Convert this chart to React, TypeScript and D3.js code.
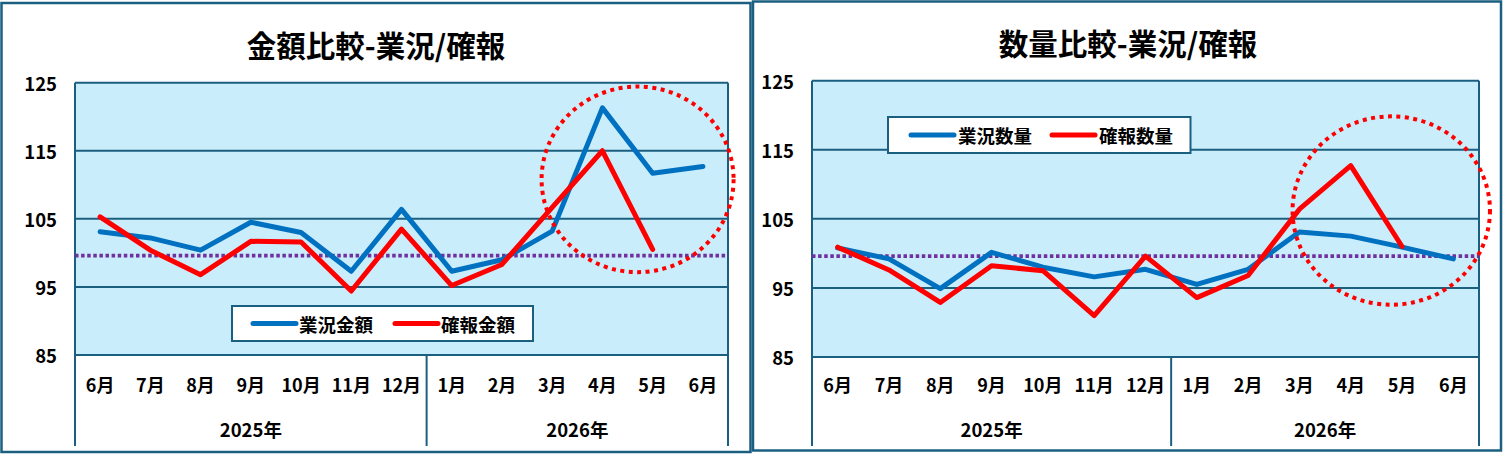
import React from "react";
import * as d3 from "d3";

const months = ["6月", "7月", "8月", "9月", "10月", "11月", "12月", "1月", "2月", "3月", "4月", "5月", "6月"];
const years = ["2025年", "2026年"];
const yearSpans = [7, 6];
const yTicks = [85, 95, 105, 115, 125];
const yDomain = [85, 125];
const baselineValue = 99.6;

const amountTitle = "金額比較-業況/確報";
const amountSeriesNames = ["業況金額", "確報金額"];
const amountGyokyo = [103.1, 102.2, 100.4, 104.5, 103.0, 97.3, 106.4, 97.3, 99.0, 103.2, 121.3, 111.7, 112.7];
const amountKakuho = [105.3, 100.4, 96.8, 101.7, 101.6, 94.4, 103.5, 95.2, 98.3, 106.7, 115.0, 100.5, null];
const amountCircle = { idx: 10.7, value: 110.8 };

const volumeTitle = "数量比較-業況/確報";
const volumeSeriesNames = ["業況数量", "確報数量"];
const volumeGyokyo = [100.8, 99.2, 94.9, 100.15, 98.0, 96.6, 97.7, 95.5, 97.7, 103.1, 102.5, 100.9, 99.2];
const volumeKakuho = [100.9, 97.6, 92.9, 98.2, 97.5, 91.0, 99.6, 93.6, 96.8, 106.4, 112.7, 101.0, null];
const volumeCircle = { idx: 10.79, value: 106.2 };

const FONT = '"Noto Sans CJK JP", "Noto Sans", sans-serif';
const DARK = "#1b5f80";
const BG = "#c9edfb";
const BLUE = "#0070c0";
const RED = "#ff0000";
const PURPLE = "#7030a0";

type Layout = {
  panel: [number, number, number, number];
  plot: { left: number; right: number; top: number; bottom: number };
  titleX: number;
  titleY: number;
  legend: { x: number; y: number; w: number; h: number; items: number[]; texts: number[] };
  circle: { rx: number; ry: number };
};

function Chart(props: {
  layout: Layout;
  title: string;
  names: string[];
  gyokyo: (number | null)[];
  kakuho: (number | null)[];
  circle: { idx: number; value: number };
}) {
  const { layout, title, names, gyokyo, kakuho, circle } = props;
  const { plot, panel, legend } = layout;
  const x = d3
    .scaleBand<number>()
    .domain(months.map((_, i) => i))
    .range([plot.left, plot.right])
    .paddingInner(0)
    .paddingOuter(0);
  const bw = x.bandwidth();
  const cx = (i: number) => (x(i) as number) + bw / 2;
  const y = d3.scaleLinear().domain(yDomain).range([plot.bottom, plot.top]);
  const line = d3
    .line<number | null>()
    .defined((d) => d !== null)
    .x((_, i) => cx(i))
    .y((d) => y(d as number));

  const circX = plot.left + bw / 2 + circle.idx * bw;
  const circY = y(circle.value);

  let acc = 0;
  const dividers: number[] = [];
  const yearCenters: number[] = [];
  yearSpans.forEach((s) => {
    const start = plot.left + acc * bw;
    acc += s;
    const end = plot.left + acc * bw;
    yearCenters.push((start + end) / 2);
    dividers.push(end);
  });
  const axisBottom = 446;

  return (
    <g>
      <rect
        x={panel[0]}
        y={panel[1]}
        width={panel[2] - panel[0]}
        height={panel[3] - panel[1]}
        fill="#fff"
        stroke={DARK}
        strokeWidth={2.5}
      />
      <text
        x={layout.titleX}
        y={layout.titleY}
        textAnchor="middle"
        dominantBaseline="central"
        fontFamily={FONT}
        fontWeight="bold"
        fontSize={29.5}
        fill="#000"
      >
        {title}
      </text>
      <rect x={plot.left} y={plot.top} width={plot.right - plot.left} height={plot.bottom - plot.top} fill={BG} />
      {yTicks.map((t) => (
        <line key={"g" + t} x1={plot.left} x2={plot.right} y1={y(t)} y2={y(t)} stroke={DARK} strokeWidth={2} />
      ))}
      {yTicks.map((t) => (
        <text
          key={"t" + t}
          x={plot.left - 18}
          y={y(t)}
          textAnchor="end"
          dominantBaseline="central"
          fontFamily={FONT}
          fontWeight="bold"
          fontSize={18.5}
        >
          {t}
        </text>
      ))}
      <line x1={plot.left} x2={plot.left} y1={plot.top} y2={axisBottom} stroke={DARK} strokeWidth={2} />
      {dividers.map((d, i) => (
        <line key={"d" + i} x1={d} x2={d} y1={i === dividers.length - 1 ? plot.top : plot.bottom} y2={axisBottom} stroke={DARK} strokeWidth={2} />
      ))}
      {months.map((m, i) => (
        <text
          key={"m" + i}
          x={cx(i)}
          y={384}
          textAnchor="middle"
          dominantBaseline="central"
          fontFamily={FONT}
          fontWeight="bold"
          fontSize={18}
        >
          {m}
        </text>
      ))}
      {years.map((yl, i) => (
        <text
          key={"y" + i}
          x={yearCenters[i]}
          y={429}
          textAnchor="middle"
          dominantBaseline="central"
          fontFamily={FONT}
          fontWeight="bold"
          fontSize={18.5}
        >
          {yl}
        </text>
      ))}
      <line
        x1={plot.left}
        x2={plot.right}
        y1={y(baselineValue)}
        y2={y(baselineValue)}
        stroke={PURPLE}
        strokeWidth={3.8}
        strokeDasharray="3.5 2.6"
      />
      <path d={line(gyokyo) || ""} fill="none" stroke={BLUE} strokeWidth={5} strokeLinecap="round" strokeLinejoin="round" />
      <path d={line(kakuho) || ""} fill="none" stroke={RED} strokeWidth={5} strokeLinecap="round" strokeLinejoin="round" />
      <ellipse
        cx={circX}
        cy={circY}
        rx={layout.circle.rx}
        ry={layout.circle.ry}
        fill="none"
        stroke={RED}
        strokeWidth={4}
        strokeDasharray="4 4.5"
      />
      <rect x={legend.x} y={legend.y} width={legend.w} height={legend.h} fill="#fff" stroke={DARK} strokeWidth={2} />
      {names.map((n, i) => (
        <g key={"l" + i}>
          <line
            x1={legend.items[i]}
            x2={legend.items[i] + 43}
            y1={legend.y + legend.h / 2}
            y2={legend.y + legend.h / 2}
            stroke={i === 0 ? BLUE : RED}
            strokeWidth={5}
            strokeLinecap="round"
          />
          <text
            x={legend.texts[i]}
            y={legend.y + legend.h / 2}
            dominantBaseline="central"
            fontFamily={FONT}
            fontWeight="bold"
            fontSize={18.5}
          >
            {n}
          </text>
        </g>
      ))}
    </g>
  );
}

const leftLayout: Layout = {
  panel: [1.5, 3, 750.5, 452],
  plot: { left: 75, right: 728, top: 82.7, bottom: 355 },
  titleX: 376,
  titleY: 44,
  legend: { x: 232, y: 306, w: 301, h: 35, items: [253, 395], texts: [299, 441] },
  circle: { rx: 96, ry: 92.8 },
};

const rightLayout: Layout = {
  panel: [753, 1.5, 1501, 450.5],
  plot: { left: 812, right: 1479, top: 80.7, bottom: 357 },
  titleX: 1128,
  titleY: 42,
  legend: { x: 888, y: 117, w: 302.5, h: 36, items: [911, 1052], texts: [958, 1099] },
  circle: { rx: 98.7, ry: 94.2 },
};

export default function App() {
  return (
    <svg
      width={1503}
      height={454}
      style={{ position: "absolute", left: 0, top: 0, background: "#fff" }}
    >
      <Chart layout={leftLayout} title={amountTitle} names={amountSeriesNames} gyokyo={amountGyokyo} kakuho={amountKakuho} circle={amountCircle} />
      <Chart layout={rightLayout} title={volumeTitle} names={volumeSeriesNames} gyokyo={volumeGyokyo} kakuho={volumeKakuho} circle={volumeCircle} />
    </svg>
  );
}
